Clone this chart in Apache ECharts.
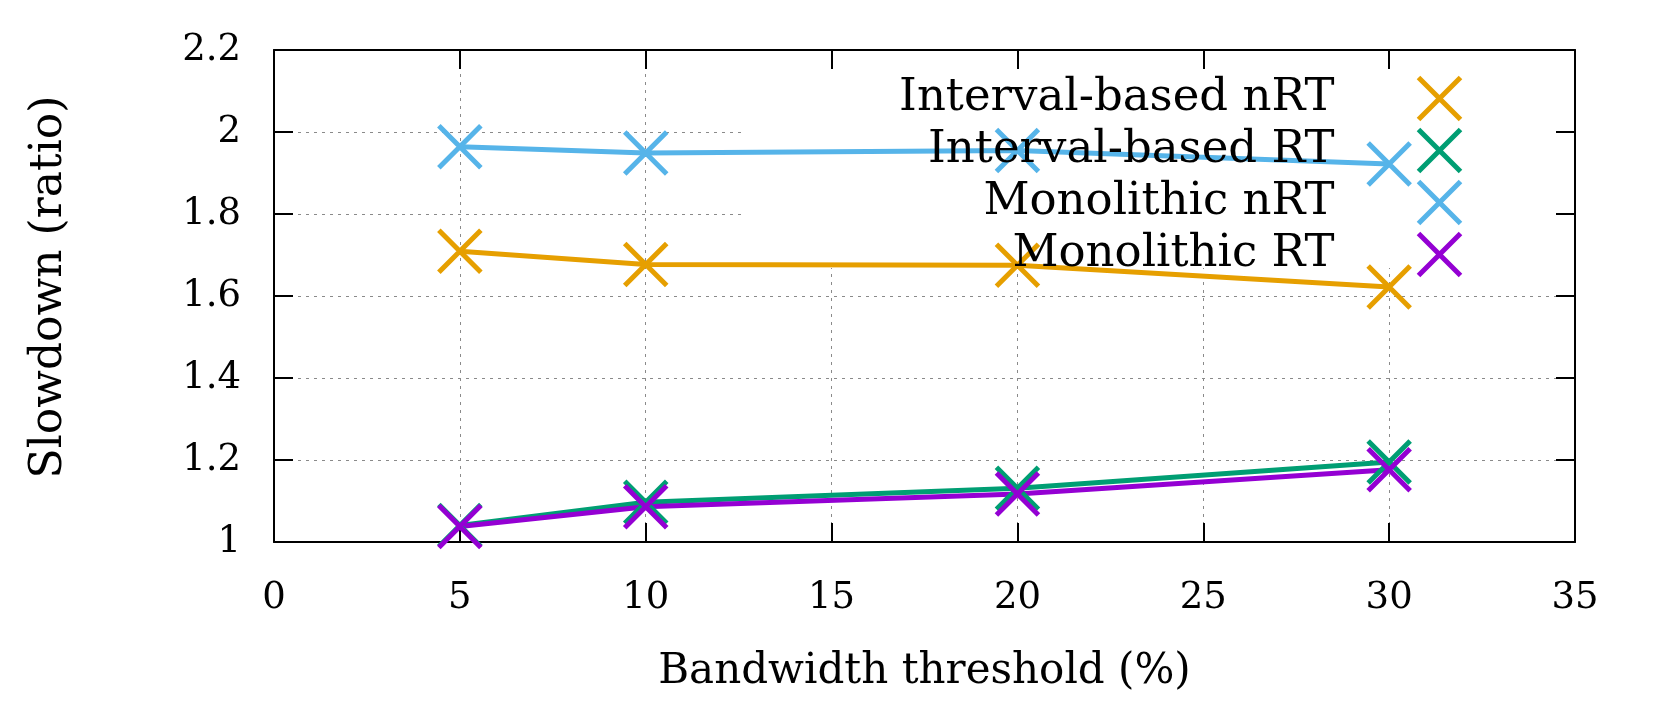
<!DOCTYPE html>
<html>
<head>
<meta charset="utf-8">
<script src="https://cdn.jsdelivr.net/npm/echarts@6/dist/echarts.min.js"></script>
<style>
    html, body { margin: 0; padding: 0; background: #fff; }
    #main { width: 1658px; height: 701px; }
</style>
</head>
<body>
<div id="main"></div>
<script>
    // data
    var thresholds = [5, 10, 20, 30];
    var seriesNames = ['Interval-based nRT', 'Interval-based RT', 'Monolithic nRT', 'Monolithic RT'];
    var intervalNRT = [1.709, 1.677, 1.675, 1.622];
    var intervalRT = [1.040, 1.097, 1.131, 1.195];
    var monoNRT = [1.964, 1.949, 1.955, 1.922];
    var monoRT = [1.038, 1.086, 1.117, 1.176];
    var colors = ['#e69f00', '#009e73', '#56b4e9', '#9400d3'];

    var FONT = 'DejaVu Serif';
    var CROSS = 'path://M0,0L10,10M10,0L0,10';
    var gridColor = '#8a8a8a';

    function pairs(ys) {
        return thresholds.map(function (x, i) { return [x, ys[i]]; });
    }

    function makeSeries(name, ys, color) {
        return {
            name: name,
            type: 'line',
            data: pairs(ys),
            symbol: CROSS,
            symbolSize: 42,
            showAllSymbol: true,
            lineStyle: { color: color, width: 5 },
            itemStyle: { color: color, borderColor: color, borderWidth: 5 },
            emphasis: { disabled: true },
            z: 2
        };
    }

    var allValues = [intervalNRT, intervalRT, monoNRT, monoRT];

    var myChart = echarts.init(document.getElementById('main'));
    var option = {
        backgroundColor: '#fff',
        animation: false,
        grid: { left: 274, right: 83, top: 50, bottom: 159 },
        legend: {
            orient: 'vertical',
            align: 'right',
            right: 195,
            top: 75,
            padding: 0,
            itemWidth: 200,
            itemHeight: 42,
            itemGap: 5,
            icon: CROSS,
            itemStyle: { borderWidth: 5 },
            textStyle: { fontFamily: FONT, fontSize: 45, color: '#000', lineHeight: 42 },
            data: seriesNames.map(function (n, i) {
                return { name: n, itemStyle: { color: colors[i], borderColor: colors[i], borderWidth: 5 } };
            })
        },
        xAxis: [
            {
                type: 'value', min: 0, max: 35, interval: 5,
                name: 'Bandwidth threshold (%)',
                nameLocation: 'middle',
                nameGap: 109,
                nameTextStyle: { fontFamily: FONT, fontSize: 42, color: '#000' },
                axisLine: { show: true, onZero: false, lineStyle: { color: '#000', width: 2 } },
                axisTick: { show: true, inside: true, length: 19, lineStyle: { color: '#000', width: 2 } },
                axisLabel: { fontFamily: FONT, fontSize: 37, color: '#000', margin: 38 },
                splitLine: { show: true, lineStyle: { color: gridColor, width: 1, type: [3, 5] } },
                z: 0
            },
            {
                type: 'value', min: 0, max: 35, interval: 5, position: 'top',
                axisLine: { show: true, onZero: false, lineStyle: { color: '#000', width: 2 } },
                axisTick: { show: true, inside: true, length: 19, lineStyle: { color: '#000', width: 2 } },
                axisLabel: { show: false },
                splitLine: { show: false },
                z: 3
            }
        ],
        yAxis: [
            {
                type: 'value', min: 1, max: 2.2, interval: 0.2,
                name: 'Slowdown (ratio)',
                nameLocation: 'middle',
                nameGap: 202,
                nameTextStyle: { fontFamily: FONT, fontSize: 44, color: '#000', padding: [0, 0, 0, 18] },
                axisLine: { show: true, onZero: false, lineStyle: { color: '#000', width: 2 } },
                axisTick: { show: true, inside: true, length: 19, lineStyle: { color: '#000', width: 2 } },
                axisLabel: { fontFamily: FONT, fontSize: 37, color: '#000', margin: 33 },
                splitLine: { show: true, lineStyle: { color: gridColor, width: 1, type: [3, 5] } },
                z: 0
            },
            {
                type: 'value', min: 1, max: 2.2, interval: 0.2, position: 'right',
                axisLine: { show: true, onZero: false, lineStyle: { color: '#000', width: 2 } },
                axisTick: { show: true, inside: true, length: 19, lineStyle: { color: '#000', width: 2 } },
                axisLabel: { show: false },
                splitLine: { show: false },
                z: 3
            }
        ],
        // key box blanks the grid behind it, like gnuplot does
        graphic: {
            elements: [{
                type: 'rect',
                z: 1,
                silent: true,
                shape: { x: 745, y: 51, width: 829, height: 217 },
                style: { fill: '#fff' }
            }]
        },
        series: seriesNames.map(function (n, i) {
            return makeSeries(n, allValues[i], colors[i]);
        })
    };
    myChart.setOption(option);
</script>
</body>
</html>
